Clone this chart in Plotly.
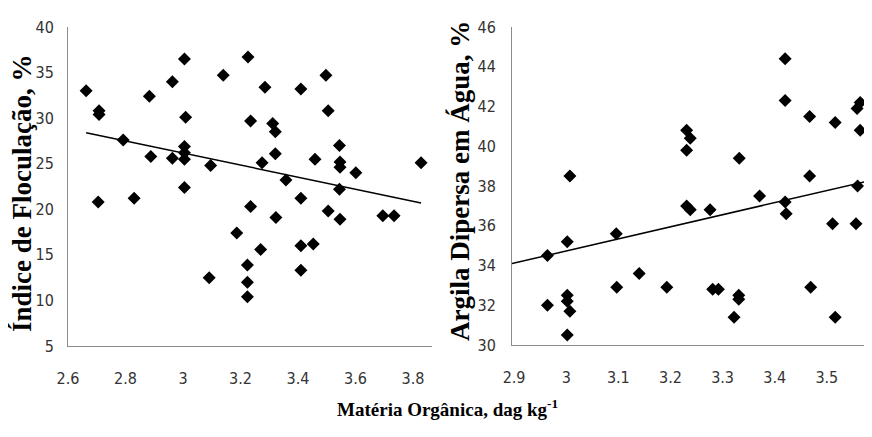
import plotly.graph_objects as go

# ---- Left panel: Matéria Orgânica vs Índice de Floculação ----
mo_left = [2.663, 2.708, 2.708, 2.792, 2.888, 2.883, 2.963, 2.963, 3.005, 3.009,
           3.005, 3.005, 3.005, 3.005, 3.096, 3.140, 3.226, 3.235, 3.275, 3.285,
           3.312, 3.321, 3.321, 3.358, 3.410, 3.459, 3.497, 3.505, 3.544, 3.546,
           3.546, 3.601, 3.828, 2.705, 2.830, 3.091, 3.187, 3.235, 3.224, 3.224,
           3.224, 3.270, 3.323, 3.410, 3.410, 3.410, 3.453, 3.505, 3.544, 3.546,
           3.695, 3.734]
if_left = [33.0, 30.8, 30.4, 27.6, 25.8, 32.4, 34.0, 25.6, 36.5, 30.1,
           26.9, 26.2, 25.5, 22.4, 24.8, 34.7, 36.7, 29.7, 25.1, 33.4,
           29.4, 28.5, 26.1, 23.2, 33.2, 25.5, 34.7, 30.8, 27.0, 25.2,
           24.6, 24.0, 25.1, 20.8, 21.2, 12.5, 17.4, 20.3, 13.9, 12.0,
           10.4, 15.6, 19.1, 21.2, 16.0, 13.3, 16.2, 19.8, 22.2, 18.9,
           19.3, 19.3]
trend_left_slope = -6.615
trend_left_intercept = 46.02
trend_left_x = [2.663, 3.828]

# ---- Right panel: Matéria Orgânica vs Argila Dispersa em Água ----
mo_right = [3.007, 3.231, 3.238, 3.231, 3.332, 3.420, 3.420, 3.467, 3.516, 3.564,
            3.558, 3.564, 3.467, 3.559, 3.371, 3.420, 3.422, 3.231, 3.238, 3.276,
            3.511, 3.556, 3.096, 3.002, 2.964, 3.140, 3.097, 3.193, 3.281, 3.292,
            3.331, 3.331, 3.322, 3.469, 3.516, 2.964, 3.002, 3.002, 3.007, 3.002]
ada_right = [38.5, 40.8, 40.4, 39.8, 39.4, 44.4, 42.3, 41.5, 41.2, 42.2,
             41.9, 40.8, 38.5, 38.0, 37.5, 37.2, 36.6, 37.0, 36.8, 36.8,
             36.1, 36.1, 35.6, 35.2, 34.5, 33.6, 32.9, 32.9, 32.8, 32.8,
             32.5, 32.3, 31.4, 32.9, 31.4, 32.0, 32.5, 32.2, 31.7, 30.5]
trend_right_slope = 6.08
trend_right_intercept = 16.49
trend_right_x = [2.896, 3.62]

left_xticks = [2.6, 2.8, 3.0, 3.2, 3.4, 3.6, 3.8]
left_xlabels = ["2.6", "2.8", "3", "3.2", "3.4", "3.6", "3.8"]
left_yticks = [5, 10, 15, 20, 25, 30, 35, 40]
right_xticks = [2.9, 3.0, 3.1, 3.2, 3.3, 3.4, 3.5, 3.6]
right_xlabels = ["2.9", "3", "3.1", "3.2", "3.3", "3.4", "3.5", "3.6"]
right_yticks = [30, 32, 34, 36, 38, 40, 42, 44, 46]

W, H = 872, 437
OFF = 8  # page body margin offset (px)


def px(sx):
    return (sx - OFF) / W


def py(sy):
    return 1 - (sy - OFF) / H


TICKFONT = dict(family="Liberation Sans Narrow, DejaVu Sans Condensed, Arial Narrow, sans-serif",
                size=16, color="#333333")
TITLEFONT = "Liberation Serif, Times New Roman, serif"

fig = go.Figure()
marker = dict(symbol="diamond", size=10, color="black")

fig.add_trace(go.Scatter(x=mo_left, y=if_left, mode="markers", marker=marker,
                         xaxis="x", yaxis="y", showlegend=False, cliponaxis=False))
fig.add_trace(go.Scatter(x=trend_left_x,
                         y=[trend_left_intercept + trend_left_slope * v for v in trend_left_x],
                         mode="lines", line=dict(color="black", width=1.5),
                         xaxis="x", yaxis="y", showlegend=False))
fig.add_trace(go.Scatter(x=mo_right, y=ada_right, mode="markers", marker=marker,
                         xaxis="x2", yaxis="y2", showlegend=False, cliponaxis=False))
fig.add_trace(go.Scatter(x=trend_right_x,
                         y=[trend_right_intercept + trend_right_slope * v for v in trend_right_x],
                         mode="lines", line=dict(color="black", width=1.5),
                         xaxis="x2", yaxis="y2", showlegend=False))

axis_common = dict(showgrid=False, zeroline=False, showline=True, linecolor="#8c8c8c",
                   linewidth=1, ticks="", tickfont=TICKFONT, automargin=False)

fig.update_layout(
    template="none",
    width=W, height=H,
    margin=dict(l=0, r=0, t=0, b=0),
    paper_bgcolor="white", plot_bgcolor="white",
    xaxis=dict(domain=[px(68), px(432)], range=[2.6, 3.866],
               tickvals=left_xticks, ticktext=left_xlabels,
               anchor="y", ticklabelstandoff=18, **axis_common),
    yaxis=dict(domain=[py(346), py(27)], range=[5, 40], tickvals=left_yticks,
               anchor="x", ticklabelstandoff=10, **axis_common),
    xaxis2=dict(domain=[px(512), 1.0], range=[2.896, 3.602],
                tickvals=right_xticks, ticktext=right_xlabels,
                anchor="y2", ticklabelstandoff=18, ticklabeloverflow="allow",
                **axis_common),
    yaxis2=dict(domain=[py(345), py(27)], range=[30, 46], tickvals=right_yticks,
                anchor="x2", ticklabelstandoff=12, **axis_common),
    annotations=[
        dict(text="<b>Índice de Floculação, %</b>", textangle=-90,
             xref="paper", yref="paper", x=px(22), y=py(193),
             xanchor="center", yanchor="middle",
             showarrow=False, font=dict(family=TITLEFONT, size=27, color="black")),
        dict(text="<b>Argila Dipersa em Água, %</b>", textangle=-90,
             xref="paper", yref="paper", x=px(460), y=py(181),
             xanchor="center", yanchor="middle",
             showarrow=False, font=dict(family=TITLEFONT, size=27, color="black")),
        dict(text="<b>Matéria Orgânica, dag kg<sup>-1</sup></b>",
             xref="paper", yref="paper", x=px(447), y=py(408),
             xanchor="center", yanchor="middle",
             showarrow=False, font=dict(family=TITLEFONT, size=19, color="black")),
    ],
)

fig.write_html("out.html")
